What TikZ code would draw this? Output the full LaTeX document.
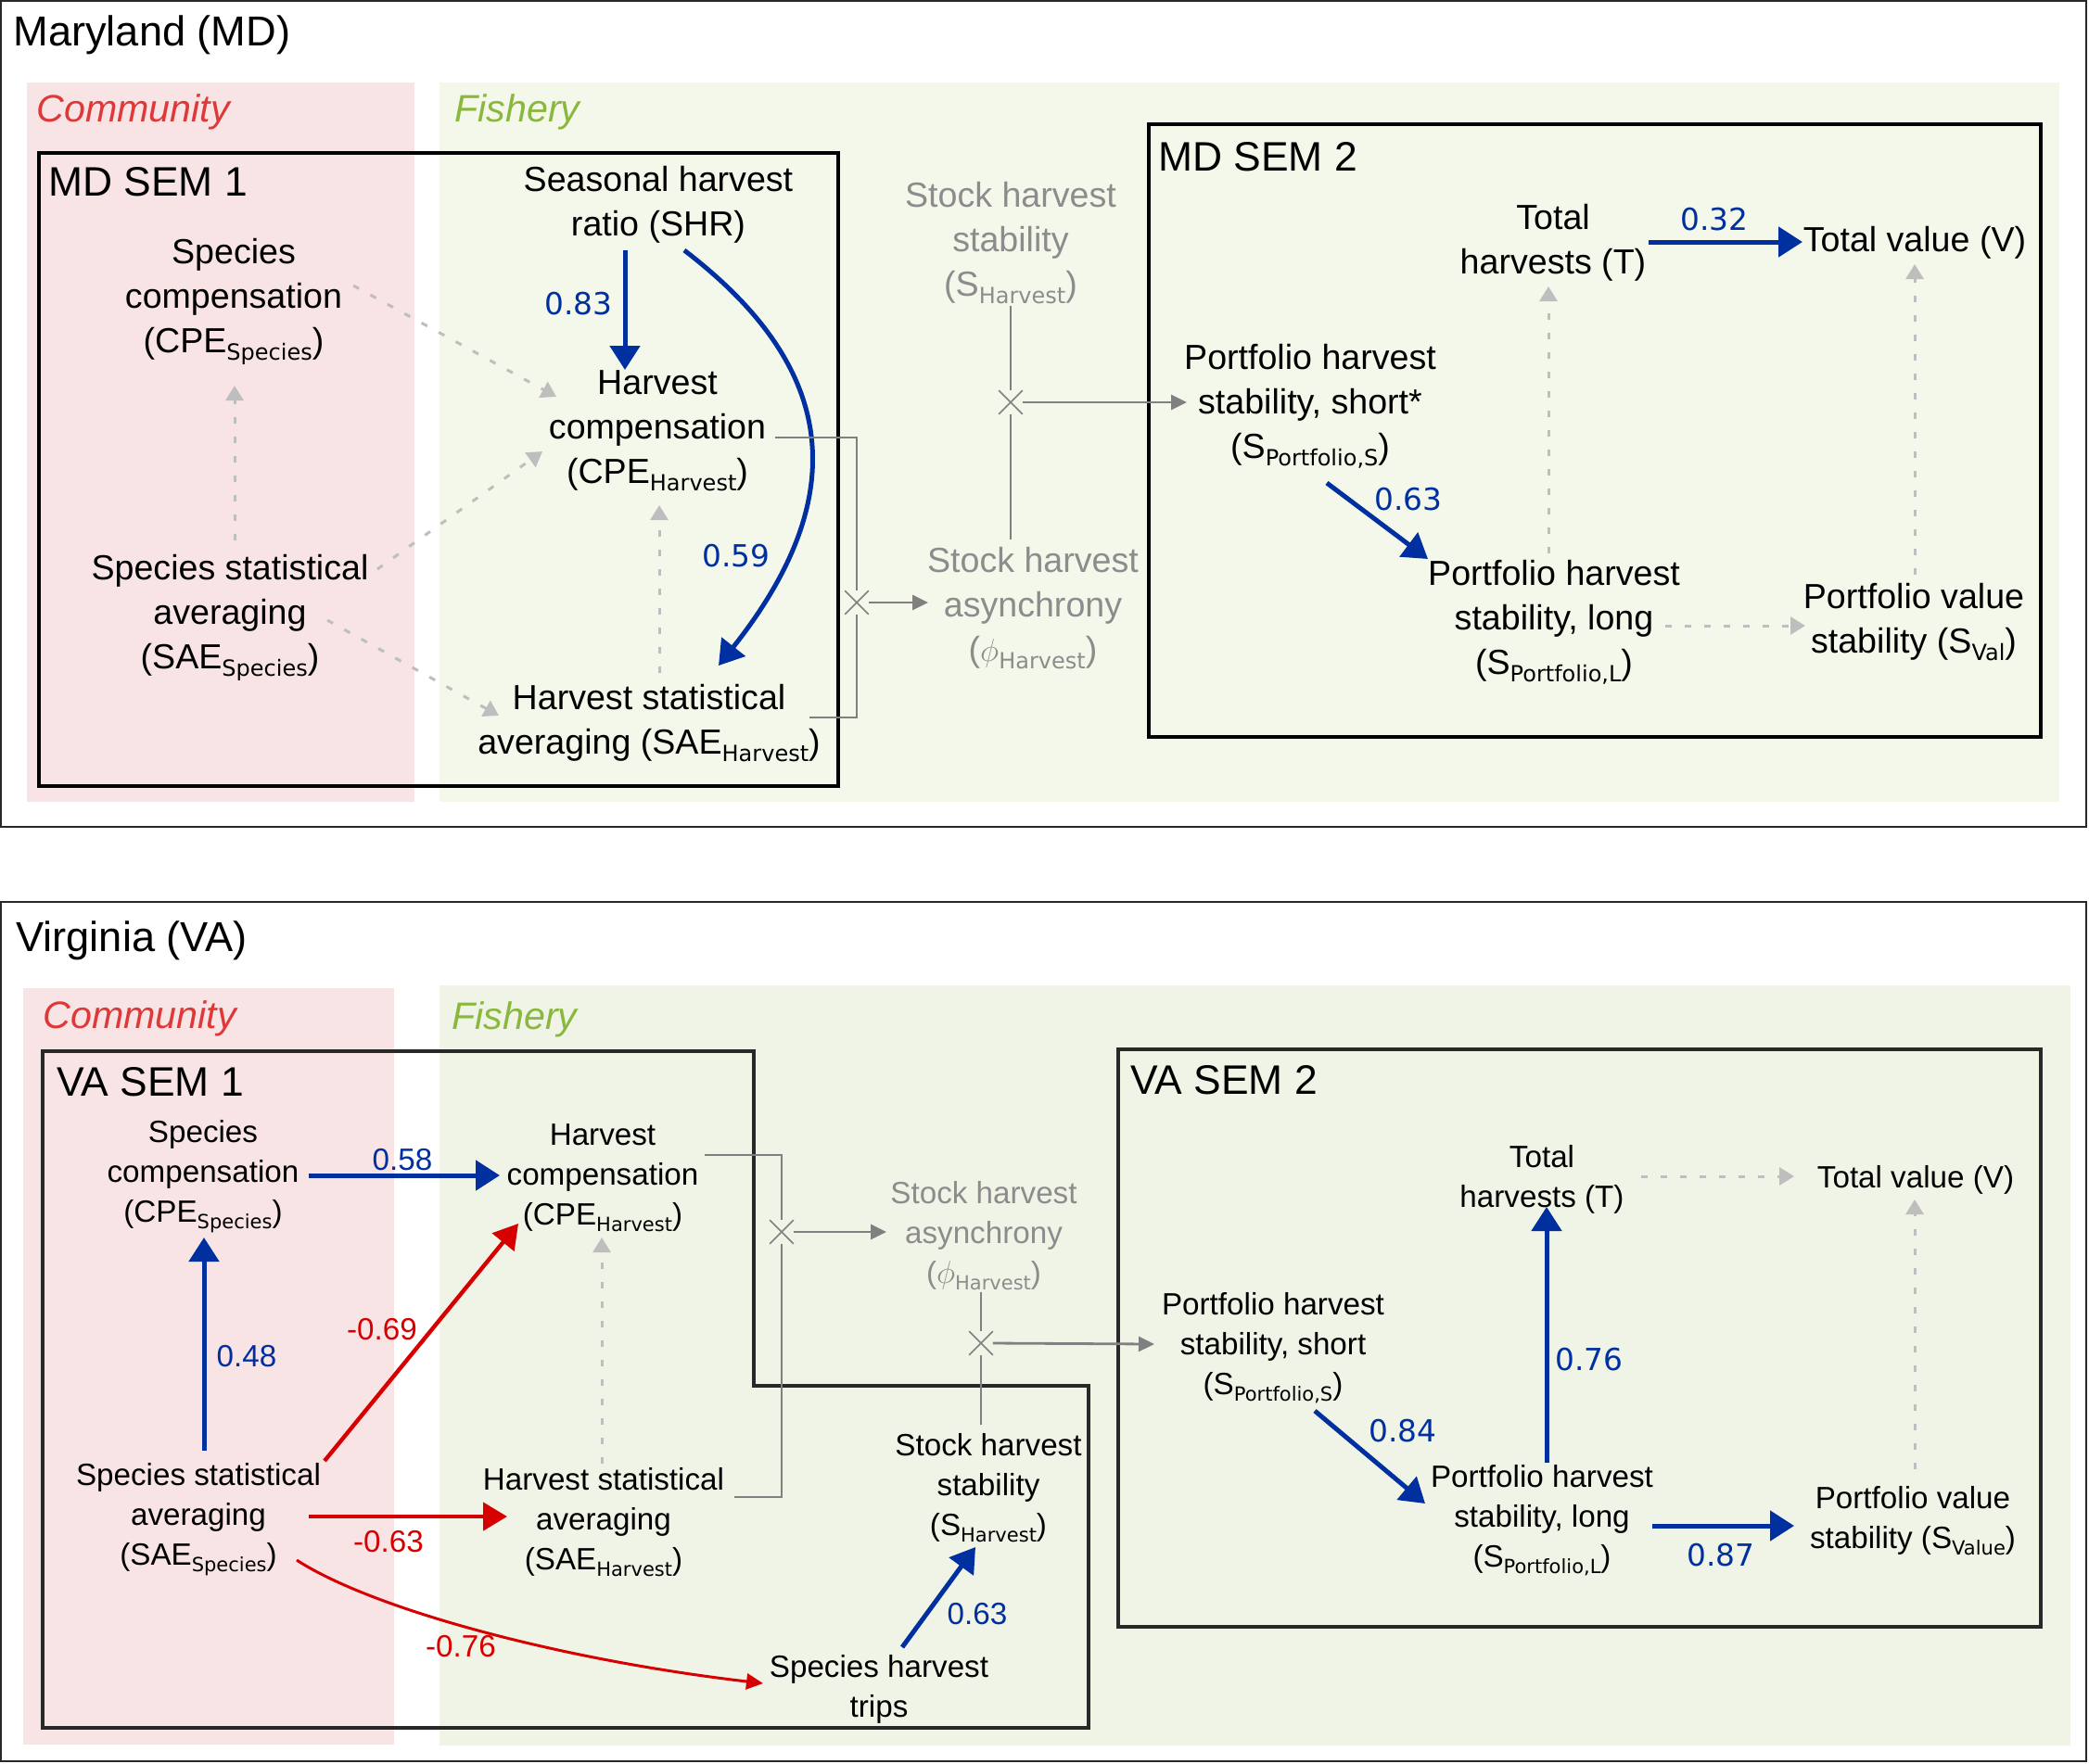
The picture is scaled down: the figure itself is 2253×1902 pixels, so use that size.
\documentclass[tikz,border=0pt]{standalone}
\usepackage{fontspec}
\setmainfont{Liberation Sans}
\newfontfamily\dejavu{DejaVu Sans}
\usetikzlibrary{arrows.meta,calc,shapes.misc}
\definecolor{pinkbg}{RGB}{249,228,229}
\definecolor{greenbgA}{RGB}{244,248,235}
\definecolor{greenbgB}{RGB}{240,244,230}
\definecolor{commred}{RGB}{222,56,56}
\definecolor{fishgreen}{RGB}{138,184,60}
\definecolor{eblue}{RGB}{0,48,160}
\definecolor{ered}{RGB}{215,0,0}
\definecolor{cgray}{RGB}{128,128,128}
\definecolor{dotgray}{RGB}{190,190,190}
\definecolor{txtgray}{RGB}{140,140,140}
\definecolor{framegray}{RGB}{40,40,40}
\newcommand\sbA[1]{\raisebox{-4pt}{\dejavu\fontsize{12pt}{12pt}\selectfont #1}}
\newcommand\sbB[1]{\raisebox{-3.5pt}{\dejavu\fontsize{10.5pt}{10.5pt}\selectfont #1}}
\begin{document}
\begin{tikzpicture}[x=0.5pt,y=-0.5pt,
  mdt/.style={align=center,inner sep=0pt,font=\fontsize{18.8pt}{24pt}\selectfont},
  vat/.style={align=center,inner sep=0pt,font=\fontsize{16.6pt}{21.5pt}\selectfont},
  gtxt/.style={text=txtgray},
  ttl/.style={anchor=base west,inner sep=0pt,font=\fontsize{22.6pt}{26pt}\selectfont},
  semt/.style={anchor=base west,inner sep=0pt,font=\fontsize{22.2pt}{26pt}\selectfont},
  regt/.style={anchor=base west,inner sep=0pt,font=\itshape\fontsize{20.6pt}{24pt}\selectfont},
  lblD/.style={inner sep=0pt,text=eblue,font=\dejavu\fontsize{16.4pt}{18pt}\selectfont},
  lblA/.style={inner sep=0pt,font=\fontsize{16.6pt}{18pt}\selectfont},
  barr/.style={draw=eblue,line width=2.5pt,-{Triangle[length=13pt,width=16pt]}},
  rarr/.style={draw=ered,line width=2.2pt,-{Triangle[length=13pt,width=15pt]}},
  rthin/.style={draw=ered,line width=1.5pt,-{Triangle[length=9pt,width=8.5pt]}},
  dotarr/.style={draw=dotgray,line width=1.5pt,dash pattern=on 3.5pt off 7pt,-{Triangle[length=8pt,width=9.5pt]}},
  gline/.style={draw=cgray,line width=1.4pt},
  garr/.style={draw=cgray,line width=1.4pt,-{Triangle[length=8.5pt,width=8pt]}},
  xmark/.style={cross out,draw=cgray,line width=0.8pt,minimum size=12pt,inner sep=0pt},
  mdbox/.style={draw=black,line width=2pt},
  vabox/.style={draw=framegray,line width=2pt},
  outer/.style={draw=framegray,line width=1.2pt}
]
\useasboundingbox[fill=white] (0,0) rectangle (2253,1902);

% ---------------- Maryland panel ----------------
\fill[pinkbg] (29,89) rectangle (447,865);
\fill[greenbgA] (474,89) rectangle (2221,865);
\draw[outer] (1,1) rectangle (2250,892);
\draw[mdbox] (42,165) rectangle (904,848);
\draw[mdbox] (1239,134) rectangle (2201,795);

\node[ttl] (tMD) at (14,49) {Maryland (MD)};
\node[regt,text=commred] (cMD) at (39,131) {Community};
\node[regt,text=fishgreen] (fMD) at (490,131) {Fishery};
\node[semt] (s1MD) at (52,211) {MD SEM 1};
\node[semt] (s2MD) at (1249,184) {MD SEM 2};

\node[mdt] (shr) at (710,221) {Seasonal harvest\\ratio (SHR)};
\node[mdt] (cpeS) at (252,325) {Species\\compensation\\(CPE\sbA{Species})};
\node[mdt] (cpeH) at (709,465) {Harvest\\compensation\\(CPE\sbA{Harvest})};
\node[mdt] (saeS) at (248,666) {Species statistical\\averaging\\(SAE\sbA{Species})};
\node[mdt] (saeH) at (700,780) {Harvest statistical\\averaging (SAE\sbA{Harvest})};
\node[mdt,gtxt] (shsMD) at (1090,262) {Stock harvest\\stability\\(S\sbA{Harvest})};
\node[mdt,gtxt] (asyMD) at (1114,656) {Stock harvest\\asynchrony\\($\phi$\sbA{Harvest})};
\node[xmark] (xm1) at (924,650) {};
\node[xmark] (xm2) at (1090,434) {};
\node[mdt] (spPS) at (1413,438) {Portfolio harvest\\stability, short*\\(S\sbA{Portfolio,S})};
\node[mdt] (spPL) at (1676,671) {Portfolio harvest\\stability, long\\(S\sbA{Portfolio,L})};
\node[mdt] (TT) at (1675,262) {Total\\harvests (T)};
\node[mdt] (VV) at (2065,262) {Total value (V)};
\node[mdt] (sVal) at (2064,671) {Portfolio value\\stability (S\sbA{Val})};

\draw[barr] ($(shr)+(-36,49)$) -- ($(cpeH)+(-35,-66)$);
\node[lblD] (l083) at (624,328) {0.83};
\draw[barr] ($(shr)+(28,49)$) .. controls (888,385) and (932,520) .. ($(saeH)+(75,-62)$);
\node[lblD] (l059) at (794,600) {0.59};
\draw[dotarr] ($(cpeS)+(129,-17)$) -- ($(cpeH)+(-109,-37)$);
\draw[dotarr] ($(saeS)+(159,-52)$) -- ($(cpeH)+(-124,22)$);
\draw[dotarr] ($(saeS)+(5,-83)$) -- ($(cpeS)+(1,91)$);
\draw[dotarr] ($(saeS)+(105,3)$) -- ($(saeH)+(-162,-8)$);
\draw[dotarr] ($(saeH)+(11,-54)$) -- ($(cpeH)+(2,80)$);
\draw[gline] ($(cpeH)+(127,7)$) -| (xm1.north);
\draw[gline] (xm1.south) |- ($(saeH)+(173,-6)$);
\draw[garr] (xm1.east) -- ($(asyMD)+(-113,-6)$);
\draw[gline] ($(shsMD)+(0,68)$) -- (xm2.north);
\draw[gline] (xm2.south) -- ($(asyMD)+(-24,-74)$);
\draw[garr] (xm2.east) -- ($(spPS)+(-133,-4)$);
\draw[barr] ($(TT)+(103,-1)$) -- ($(VV)+(-121,-1)$);
\node[lblD] (l032) at (1849,237) {0.32};
\draw[barr] ($(spPS)+(18,83)$) -- ($(spPL)+(-136,-68)$);
\node[lblD] (l063a) at (1519,539) {0.63};
\draw[dotarr] ($(spPL)+(-6,-74)$) -- ($(TT)+(-5,47)$);
\draw[dotarr] ($(sVal)+(1,-51)$) -- ($(VV)+(0,23)$);
\draw[dotarr] ($(spPL)+(120,4)$) -- ($(sVal)+(-117,4)$);

% ---------------- Virginia panel ----------------
\fill[pinkbg] (25,1066) rectangle (425,1882);
\fill[greenbgB] (474,1063) rectangle (2233,1883);
\draw[outer] (1,973) rectangle (2250,1900);
\draw[vabox] (46,1134) -- (813,1134) -- (813,1495) -- (1174,1495) -- (1174,1864) -- (46,1864) -- cycle;
\draw[vabox] (1206,1132) rectangle (2201,1755);

\node[ttl] (tVA) at (17,1026) {Virginia (VA)};
\node[regt,text=commred] (cVA) at (46,1109) {Community};
\node[regt,text=fishgreen] (fVA) at (487,1110) {Fishery};
\node[semt] (s1VA) at (61,1182) {VA SEM 1};
\node[semt] (s2VA) at (1219,1180) {VA SEM 2};

\node[vat] (vcpeS) at (219,1269) {Species\\compensation\\(CPE\sbB{Species})};
\node[vat] (vcpeH) at (650,1271) {Harvest\\compensation\\(CPE\sbB{Harvest})};
\node[vat] (vsaeS) at (214,1639) {Species statistical\\averaging\\(SAE\sbB{Species})};
\node[vat] (vsaeH) at (651,1642) {Harvest statistical\\averaging\\(SAE\sbB{Harvest})};
\node[vat] (vshs) at (1066,1605) {Stock harvest\\stability\\(S\sbB{Harvest})};
\node[vat] (vtrips) at (948,1822) {Species harvest\\trips};
\node[vat,gtxt] (vasy) at (1061,1333) {Stock harvest\\asynchrony\\($\phi$\sbB{Harvest})};
\node[xmark] (xm3) at (843,1329) {};
\node[xmark] (xm4) at (1058,1449) {};
\node[vat] (vTT) at (1663,1272) {Total\\harvests (T)};
\node[vat] (vVV) at (2066,1273) {Total value (V)};
\node[vat] (vspPS) at (1373,1454) {Portfolio harvest\\stability, short\\(S\sbB{Portfolio,S})};
\node[vat] (vspPL) at (1663,1640) {Portfolio harvest\\stability, long\\(S\sbB{Portfolio,L})};
\node[vat] (vsVal) at (2063,1641) {Portfolio value\\stability (S\sbB{Value})};

\draw[barr] ($(vcpeS)+(114,-1)$) -- ($(vcpeH)+(-111,-3)$);
\node[lblA,text=eblue] (l058) at (434,1251) {0.58};
\draw[barr] ($(vsaeS)+(6,-74)$) -- ($(vcpeS)+(1,66)$);
\node[lblA,text=eblue] (l048) at (266,1463) {0.48};
\draw[rarr] ($(vsaeS)+(136,-63)$) -- ($(vcpeH)+(-91,49)$);
\node[lblA,text=ered] (l069) at (412,1434) {-0.69};
\draw[rarr] ($(vsaeS)+(119,-3)$) -- ($(vsaeH)+(-104,-6)$);
\node[lblA,text=ered] (l063r) at (419,1663) {-0.63};
\draw[rthin] ($(vsaeS)+(106,44)$) .. controls (400,1735) and (600,1790) .. ($(vtrips)+(-125,-6)$);
\node[lblA,text=ered] (l076r) at (497,1776) {-0.76};
\draw[barr] ($(vtrips)+(25,-45)$) -- ($(vshs)+(-14,64)$);
\node[lblA,text=eblue] (l063b) at (1054,1741) {0.63};
\draw[dotarr] ($(vsaeH)+(-2,-63)$) -- ($(vcpeH)+(-1,64)$);
\draw[gline] ($(vcpeH)+(110,-25)$) -| (xm3.north);
\draw[gline] (xm3.south) |- ($(vsaeH)+(141,-27)$);
\draw[garr] (xm3.east) -- ($(vasy)+(-105,-4)$);
\draw[gline] ($(vasy)+(-3,61)$) -- (xm4.north);
\draw[gline] (xm4.south) -- ($(vshs)+(-8,-68)$);
\draw[garr] (xm4.east) -- ($(vspPS)+(-128,-4)$);
\draw[dotarr] ($(vTT)+(107,-3)$) -- ($(vVV)+(-131,-4)$);
\draw[barr] ($(vspPS)+(45,68)$) -- ($(vspPL)+(-126,-18)$);
\node[lblD] (l084) at (1513,1544) {0.84};
\draw[barr] ($(vspPL)+(5,-62)$) -- ($(vTT)+(5,30)$);
\node[lblD] (l076) at (1714,1467) {0.76};
\draw[barr] ($(vspPL)+(119,6)$) -- ($(vsVal)+(-128,5)$);
\node[lblD] (l087) at (1856,1678) {0.87};
\draw[dotarr] ($(vsVal)+(2,-56)$) -- ($(vVV)+(-1,21)$);
\end{tikzpicture}
\end{document}
